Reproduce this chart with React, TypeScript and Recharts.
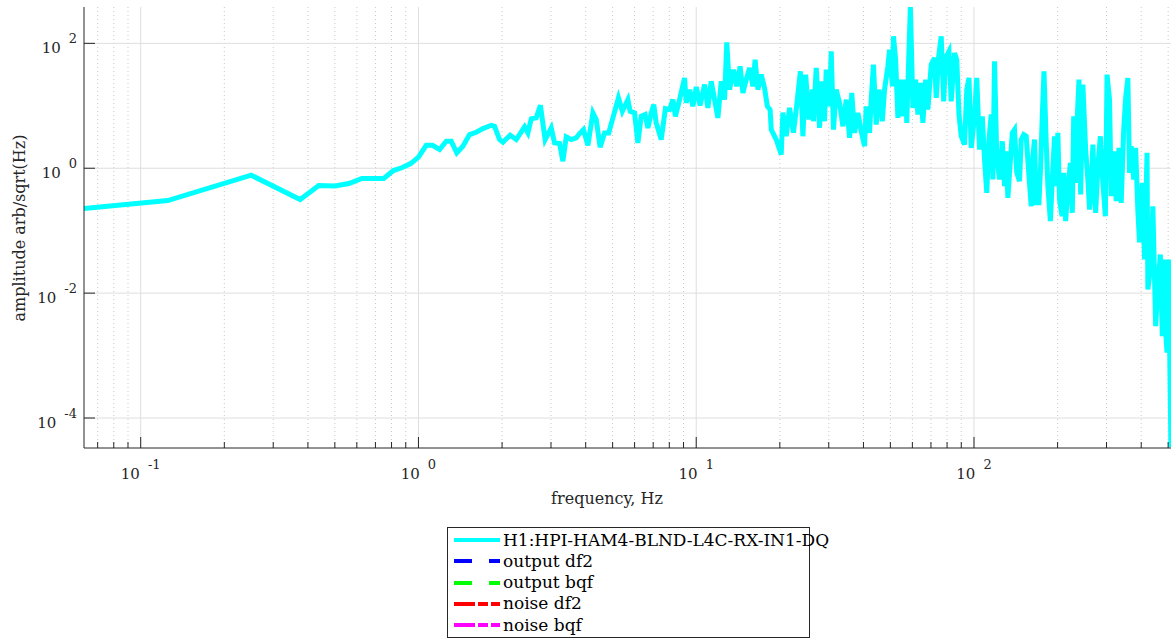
import { CartesianGrid, Label, Line, LineChart, XAxis, YAxis } from "recharts";

// spectrum, stored as log10(Hz) and log10(amplitude)
const logFreq = [
  -1.204, -0.903, -0.602, -0.426, -0.359, -0.301, -0.25, -0.204, -0.163, -0.125,
  -0.09, -0.058, -0.028, 0, 0.028, 0.051, 0.076, 0.1, 0.118, 0.138,
  0.16, 0.184, 0.208, 0.232, 0.262, 0.274, 0.292, 0.304, 0.33, 0.352,
  0.382, 0.394, 0.406, 0.424, 0.439, 0.456, 0.478, 0.49, 0.508, 0.52,
  0.532, 0.55, 0.568, 0.58, 0.594, 0.61, 0.628, 0.64, 0.654, 0.67,
  0.685, 0.7, 0.72, 0.734, 0.754, 0.762, 0.778, 0.79, 0.802, 0.816,
  0.826, 0.838, 0.847, 0.856, 0.874, 0.889, 0.904, 0.916, 0.925, 0.94,
  0.958, 0.964, 0.976, 0.988, 1.0, 1.014, 1.03, 1.042, 1.054, 1.066,
  1.078, 1.09, 1.102, 1.11, 1.12, 1.134, 1.146, 1.158, 1.168, 1.18,
  1.192, 1.204, 1.212, 1.222, 1.234, 1.246, 1.256, 1.266, 1.27, 1.288,
  1.306, 1.312, 1.324, 1.336, 1.35, 1.36, 1.375, 1.384, 1.394, 1.406,
  1.418, 1.422, 1.432, 1.444, 1.452, 1.462, 1.468, 1.48, 1.486, 1.494,
  1.504, 1.516, 1.528, 1.54, 1.552, 1.56, 1.57, 1.582, 1.594, 1.606,
  1.612, 1.624, 1.63, 1.638, 1.648, 1.658, 1.67, 1.678, 1.69, 1.696,
  1.706, 1.71, 1.718, 1.726, 1.735, 1.744, 1.754, 1.758, 1.766, 1.771,
  1.775, 1.78, 1.79, 1.798, 1.807, 1.816, 1.826, 1.834, 1.846, 1.858,
  1.864, 1.873, 1.882, 1.891, 1.898, 1.91, 1.918, 1.93, 1.938, 1.946,
  1.954, 1.966, 1.974, 1.982, 1.99, 2.002, 2.01, 2.02, 2.03, 2.038,
  2.046, 2.054, 2.062, 2.068, 2.074, 2.082, 2.092, 2.102, 2.11, 2.116,
  2.122, 2.128, 2.138, 2.146, 2.154, 2.164, 2.17, 2.179, 2.188, 2.198,
  2.206, 2.212, 2.218, 2.224, 2.234, 2.24, 2.246, 2.252, 2.26, 2.266,
  2.275, 2.282, 2.29, 2.296, 2.302, 2.308, 2.317, 2.323, 2.33, 2.338,
  2.347, 2.354, 2.359, 2.366, 2.371, 2.378, 2.384, 2.392, 2.402, 2.41,
  2.416, 2.422, 2.428, 2.438, 2.446, 2.455, 2.464, 2.473, 2.479, 2.488,
  2.494, 2.504, 2.512, 2.522, 2.53, 2.539, 2.546, 2.554, 2.56, 2.566,
  2.575, 2.582, 2.59, 2.596, 2.606, 2.614, 2.623, 2.626, 2.638, 2.644,
  2.654, 2.662, 2.671, 2.678, 2.683, 2.69, 2.695, 2.7, 2.704, 2.709,
];

const logAmp = [
  -0.645, -0.517, -0.112, -0.501, -0.277, -0.285, -0.245, -0.165, -0.165, -0.165,
  -0.037, 0.011, 0.075, 0.179, 0.368, 0.368, 0.299, 0.432, 0.432, 0.246,
  0.352, 0.539, 0.576, 0.635, 0.688, 0.672, 0.459, 0.416, 0.528, 0.459,
  0.662, 0.566, 0.79, 0.806, 1.008, 0.459, 0.646, 0.406, 0.395, 0.112,
  0.502, 0.459, 0.486, 0.555, 0.619, 0.368, 0.886, 0.779, 0.336, 0.566,
  0.566, 0.806, 1.126, 0.912, 1.099, 0.912, 0.886, 0.406, 0.832, 0.859,
  0.646, 0.886, 1.019, 0.726, 0.459, 0.955, 0.939, 1.099, 0.832, 1.099,
  1.446, 1.046, 1.259, 0.992, 1.302, 1.003, 1.339, 0.966, 1.392, 1.099,
  0.806, 1.392, 1.099, 2.016, 1.259, 1.579, 1.312, 1.632, 1.206, 1.419,
  1.606, 1.312, 1.739, 1.259, 1.499, 1.286, 0.992, 0.939, 0.619, 0.459,
  0.219, 0.891, 0.512, 0.966, 0.571, 0.939, 1.552, 0.512, 1.499, 0.779,
  1.259, 0.752, 1.606, 0.646, 1.392, 0.752, 1.579, 0.992, 1.872, 0.619,
  1.259, 1.046, 0.672, 1.099, 0.486, 1.206, 0.566, 0.886, 0.592, 0.352,
  0.992, 0.566, 1.099, 1.659, 0.699, 1.259, 0.752, 1.259, 1.632, 1.899,
  1.312, 2.112, 1.739, 0.806, 1.419, 0.832, 1.419, 0.726, 1.899, 2.58,
  1.899, 0.966, 1.419, 0.859, 1.366, 0.726, 1.419, 0.939, 1.659, 1.766,
  1.126, 1.792, 2.112, 1.072, 1.766, 1.872, 1.072, 1.846, 1.739, 0.859,
  0.512, 0.379, 1.259, 1.446, 0.326, 0.832, 1.446, 0.299, 0.832, 0.139,
  -0.394, 0.459, 0.859, -0.181, 1.712, 0.192, -0.181, 0.432, -0.288, 0.272,
  -0.474, -0.074, 0.566, 0.619, -0.074, -0.208, 0.459, 0.539, 0.512, -0.128,
  -0.608, 0.192, 0.459, -0.554, -0.554, 0.032, 0.859, 1.552, 0.406, -0.288,
  -0.848, -0.181, 0.512, -0.288, 0.566, -0.501, -0.768, -0.074, -0.848, -0.341,
  0.086, -0.714, 0.832, -0.234, 0.726, 1.419, -0.421, 1.339, 0.299, -0.181,
  -0.661, -0.394, 0.379, -0.714, 0.032, 0.512, -0.234, -0.768, 1.499, 1.099,
  -0.448, 0.272, -0.528, 0.326, -0.554, 0.619, 1.126, 1.446, -0.074, 0.352,
  -0.181, 0.326, -0.688, -1.189, -0.234, -1.461, 0.246, -1.941, -1.514, -0.608,
  -2.528, -1.888, -1.381, -2.688, -1.461, -2.608, -2.954, -1.461, -2.688, -4.469,
];

const xMajor = [0.1, 1, 10, 100];
const xMinor = [
  0.07, 0.08, 0.09, 0.2, 0.3, 0.4, 0.5, 0.6, 0.7, 0.8, 0.9,
  2, 3, 4, 5, 6, 7, 8, 9, 20, 30, 40, 50, 60, 70, 80, 90, 200, 300, 400, 500,
];
const yMajor = [1e-4, 1e-2, 1, 100];

const legendItems = [
  { name: "H1:HPI-HAM4-BLND-L4C-RX-IN1-DQ", color: "#00ffff", dash: "" },
  { name: "output df2", color: "#0000ff", dash: "18 17 12" },
  { name: "output bqf", color: "#00ff00", dash: "18 17 12" },
  { name: "noise df2", color: "#ff0000", dash: "21 3 10 3 9" },
  { name: "noise bqf", color: "#ff00ff", dash: "21 3 10 3 9" },
];

const data = logFreq.map((lf, i) => ({ f: 10 ** lf, a: 10 ** logAmp[i] }));

const FONT = "'DejaVu Serif', serif";
const AXIS = "#262626";

function Pow({ x, y, value, anchor }: any) {
  const exp = Math.round(Math.log10(value));
  return (
    <text x={x} y={y} textAnchor={anchor} fill={AXIS} fontFamily={FONT}>
      <tspan fontSize={15}>10</tspan>
      <tspan fontSize={13} dx={8} dy={-10}>
        {exp}
      </tspan>
    </text>
  );
}

const isMajor = (v: number) => xMajor.includes(v);

function BottomTick({ x, y, payload }: any) {
  const major = isMajor(payload.value);
  return (
    <g>
      <line x1={x} x2={x} y1={y} y2={y - (major ? 11 : 6)} stroke={AXIS} />
      {major && <Pow x={x} y={y + 31} value={payload.value} anchor="middle" />}
    </g>
  );
}

function TopTick({ x, y, payload }: any) {
  const major = isMajor(payload.value);
  return <line x1={x} x2={x} y1={y} y2={y + (major ? 11 : 6)} stroke={AXIS} />;
}

function LeftTick({ x, y, payload }: any) {
  return (
    <g>
      <line x1={x} x2={x + 11} y1={y} y2={y} stroke={AXIS} />
      <Pow x={x - 7} y={y + 9.5} value={payload.value} anchor="end" />
    </g>
  );
}

function RightTick({ x, y }: any) {
  return <line x1={x} x2={x - 11} y1={y} y2={y} stroke={AXIS} />;
}

function LegendBox() {
  return (
    <div
      style={{
        position: "absolute",
        left: 447,
        top: 527,
        width: 361,
        height: 109,
        border: `1px solid ${AXIS}`,
        background: "#fff",
        fontFamily: FONT,
        fontSize: 17,
      }}
    >
      {legendItems.map((it, i) => (
        <div
          key={it.name}
          style={{
            position: "absolute",
            left: 5,
            top: 12 + i * 21.3 - 10,
            height: 20,
            display: "flex",
            alignItems: "center",
            whiteSpace: "nowrap",
          }}
        >
          <svg width={48} height={8} style={{ marginRight: 2 }}>
            <line
              x1={1}
              x2={47}
              y1={4}
              y2={4}
              stroke={it.color}
              strokeWidth={4}
              strokeDasharray={it.dash || undefined}
            />
          </svg>
          <span style={{ color: "#000", lineHeight: 1 }}>{it.name}</span>
        </div>
      ))}
    </div>
  );
}

export default function App() {
  return (
    <div style={{ position: "absolute", left: 0, top: 0, width: 1176, height: 638, background: "#fff" }}>
      <LineChart width={1176} height={638} data={data} margin={{ top: 7, right: 5, bottom: 130, left: 4 }}>
        <CartesianGrid xAxisId="b" yAxisId="l" horizontal={false} verticalValues={xMinor} stroke="#c8c8c8" strokeDasharray="1 3" />
        <CartesianGrid xAxisId="b" yAxisId="l" horizontal={false} verticalValues={xMajor} stroke="#dedede" />
        <CartesianGrid xAxisId="b" yAxisId="l" vertical={false} horizontalValues={yMajor} stroke="#dedede" />
        <XAxis
          xAxisId="b"
          dataKey="f"
          type="number"
          scale="log"
          domain={[0.0625, 512]}
          allowDataOverflow
          ticks={[...xMajor, ...xMinor].sort((p, q) => p - q)}
          interval={0}
          height={60}
          tickSize={0}
          tickMargin={0}
          tickLine={false}
          axisLine={{ stroke: AXIS }}
          tick={BottomTick}
        >
          <Label
            content={() => (
              <text x={607} y={504} textAnchor="middle" fontFamily={FONT} fontSize={16} fill={AXIS}>
                frequency, Hz
              </text>
            )}
          />
        </XAxis>
        <XAxis
          xAxisId="t"
          orientation="top"
          dataKey="f"
          type="number"
          scale="log"
          domain={[0.0625, 512]}
          allowDataOverflow
          ticks={[...xMajor, ...xMinor].sort((p, q) => p - q)}
          interval={0}
          height={0}
          tickSize={0}
          tickMargin={0}
          tickLine={false}
          axisLine={{ stroke: AXIS }}
          tick={TopTick}
        />
        <YAxis
          yAxisId="l"
          type="number"
          scale="log"
          domain={[10 ** -4.48, 10 ** 2.582]}
          allowDataOverflow
          ticks={yMajor}
          interval={0}
          width={80}
          tickSize={0}
          tickMargin={0}
          tickLine={false}
          axisLine={{ stroke: AXIS }}
          tick={LeftTick}
        >
          <Label
            content={() => (
              <text
                x={25}
                y={228}
                transform="rotate(-90 25 228)"
                textAnchor="middle"
                fontFamily={FONT}
                fontSize={16}
                fill={AXIS}
              >
                amplitude arb/sqrt(Hz)
              </text>
            )}
          />
        </YAxis>
        <YAxis
          yAxisId="r"
          orientation="right"
          type="number"
          scale="log"
          domain={[10 ** -4.48, 10 ** 2.582]}
          allowDataOverflow
          ticks={yMajor}
          interval={0}
          width={0}
          tickSize={0}
          tickMargin={0}
          tickLine={false}
          axisLine={{ stroke: AXIS }}
          tick={RightTick}
        />
        <Line
          xAxisId="b"
          yAxisId="l"
          dataKey="a"
          type="linear"
          stroke="#00ffff"
          strokeWidth={5}
          dot={false}
          isAnimationActive={false}
        />
      </LineChart>
      <LegendBox />
    </div>
  );
}
